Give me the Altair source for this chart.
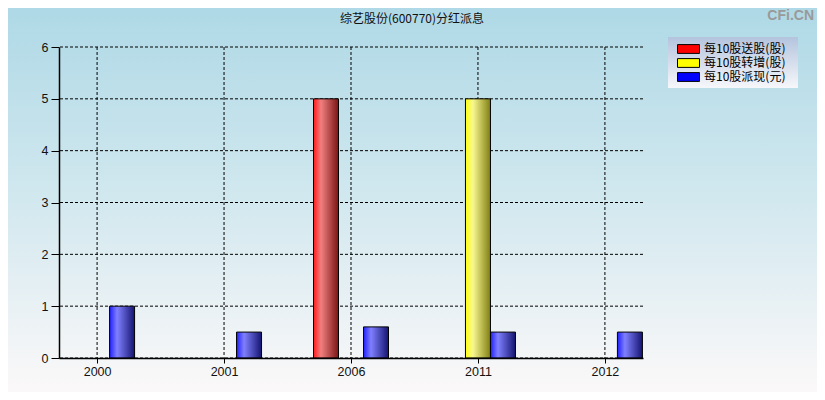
import altair as alt
import pandas as pd

years = ["2000", "2001", "2006", "2011", "2012"]
songgu = [0, 0, 5, 0, 0]          # 每10股送股(股)
zhuanzeng = [0, 0, 0, 5, 0]       # 每10股转增(股)
paixian = [1, 0.5, 0.6, 0.5, 0.5] # 每10股派现(元)
series_names = ["每10股送股(股)", "每10股转增(股)", "每10股派现(元)"]
series_colors = ["#ff0000", "#ffff00", "#0000ff"]
y_ticks = [0, 1, 2, 3, 4, 5, 6]

rows = []
for i, y in enumerate(years):
    for name, vals in zip(series_names, [songgu, zhuanzeng, paixian]):
        rows.append({"idx": i, "year": y, "series": name, "value": vals[i]})
df = pd.DataFrame(rows)
xgrid = pd.DataFrame({"idx": list(range(len(years)))})
ygrid = pd.DataFrame({"value": y_ticks})

W, H = 584, 311
PL, PT, PR, PB = 51, 39, 174, 34

label_expr = "[" + ",".join(f"'{y}'" for y in years) + "][datum.value]"
xs = alt.Scale(domain=[-0.3, 4.3], nice=False, zero=False, padding=0)
ys = alt.Scale(domain=[0, 6], nice=False, padding=0)

x_axis = alt.Axis(values=list(range(len(years))), labelExpr=label_expr, title=None,
                  grid=False, zindex=2,
                  domainColor="#000000", domainWidth=1.5, tickColor="#000000",
                  tickSize=5, labelPadding=2, labelFontSize=12.5, labelColor="#111111",
                  labelFont="Liberation Sans")
y_axis = alt.Axis(values=y_ticks, title=None, grid=False, zindex=2,
                  domainColor="#000000", domainWidth=1.5, tickColor="#000000",
                  tickSize=8, labelPadding=3, labelFontSize=12.5, labelColor="#111111",
                  labelFont="Liberation Sans")
x_enc = alt.X("idx:Q", scale=xs, axis=x_axis)
y_enc = alt.Y("value:Q", scale=ys, axis=y_axis)

bg = alt.Chart(alt.Data(values=[{}])).mark_rect(
    color=alt.Gradient(gradient="linear", x1=0, x2=0, y1=0, y2=1,
                       stops=[alt.GradientStop(offset=0, color="#add8e6"),
                              alt.GradientStop(offset=0.5, color="#d2e8ef"),
                              alt.GradientStop(offset=1, color="#fdf9f9")]),
    clip=False
).encode(x=alt.value(-PL - 8), x2=alt.value(W + PR + 8), y=alt.value(-PT - 8), y2=alt.value(H + PB + 8))

legend_bg = alt.Chart(alt.Data(values=[{}])).mark_rect(
    color=alt.Gradient(gradient="linear", x1=0, x2=0, y1=0, y2=1,
                       stops=[alt.GradientStop(offset=0, color="#b4c4de"),
                              alt.GradientStop(offset=1, color="#f6f7fa")]),
    clip=False
).encode(x=alt.value(609), x2=alt.value(739), y=alt.value(-10), y2=alt.value(41))

vgrid = alt.Chart(xgrid).mark_rule(color="#000000", strokeDash=[3, 2], strokeWidth=1).encode(
    x=x_enc)
hgrid = alt.Chart(ygrid).mark_rule(color="#000000", strokeDash=[3, 2], strokeWidth=1).encode(
    y=y_enc)

def grad(c0, c1, c2):
    return alt.Gradient(gradient="linear", x1=0, x2=1, y1=0, y2=0,
                        stops=[alt.GradientStop(offset=0, color=c0),
                               alt.GradientStop(offset=0.3, color=c1),
                               alt.GradientStop(offset=1, color=c2)])

grads = [grad("#ff1a1a", "#f08080", "#7a1414"),
         grad("#ffff10", "#f8f890", "#7f7f14"),
         grad("#2020ff", "#8080ff", "#141470")]
offsets = [-25, 0, 25]

bars = []
for name, g, off in zip(series_names, grads, offsets):
    bars.append(
        alt.Chart(df).transform_filter(
            (alt.datum.series == name) & (alt.datum.value > 0)
        ).mark_bar(color=g, width=25, xOffset=off, stroke="#000000", strokeWidth=1).encode(
            x=x_enc, y=y_enc
        )
    )

legend_layer = alt.Chart(df).mark_point(opacity=0, filled=True).encode(
    x=x_enc, y=y_enc,
    color=alt.Color("series:N",
                    scale=alt.Scale(domain=series_names, range=series_colors),
                    legend=alt.Legend(title=None, orient="none", legendX=609, legendY=-10,
                                      symbolType="M-2,-0.8L2,-0.8L2,0.8L-2,0.8Z",
                                      symbolSize=121, symbolStrokeColor="#000000",
                                      symbolStrokeWidth=1, symbolOpacity=1,
                                      padding=6, labelFontSize=12, labelColor="#000000",
                                      labelFont="Noto Sans CJK SC", rowPadding=0,
                                      labelOffset=9.5, symbolOffset=8.5))
)

title = alt.Chart(alt.Data(values=[{"t": "综艺股份(600770)分红派息"}])).mark_text(
    align="center", baseline="middle", fontSize=12, font="Noto Sans CJK SC", color="#111111"
).encode(text="t:N", x=alt.value(353), y=alt.value(-28))

watermark = alt.Chart(alt.Data(values=[{"t": "CFi.CN"}])).mark_text(
    align="right", baseline="top", fontSize=14, fontWeight="bold", color="#9a9a9a",
    font="Liberation Sans"
).encode(text="t:N", x=alt.value(W + PR - 3), y=alt.value(-PT + 1))

chart = alt.layer(bg, legend_bg, vgrid, hgrid, *bars, legend_layer, title, watermark).properties(
    width=W, height=H,
    autosize=alt.AutoSizeParams(type="none"),
    padding={"left": PL, "top": PT, "right": PR, "bottom": PB},
).configure_view(stroke=None).configure(background="#ffffff")

chart.save("out.html", embed_options={"renderer": "svg", "actions": False})
